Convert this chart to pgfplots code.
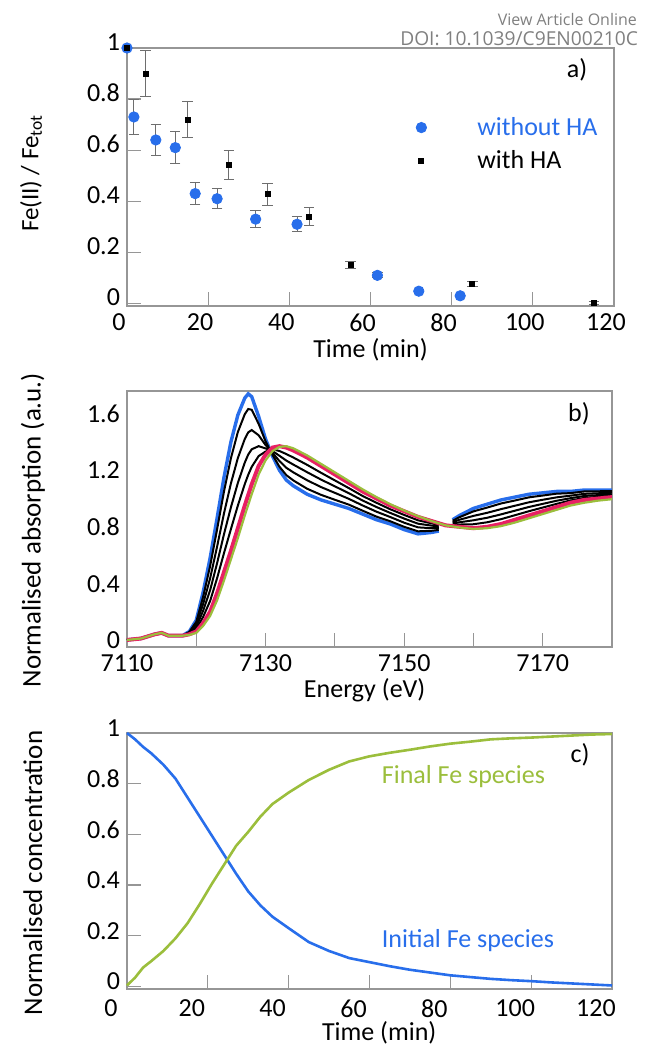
\documentclass[border=0pt]{standalone}
\usepackage{fontspec}
\setmainfont{Carlito}
\newfontfamily\wmfont{Open Sans}
\usepackage{pgfplots}
\pgfplotsset{compat=1.18}

\definecolor{cblue}{RGB}{40,110,235}
\definecolor{cgreen}{RGB}{155,190,60}
\definecolor{cred}{RGB}{232,32,100}
\definecolor{axgray}{RGB}{150,150,150}
\definecolor{errgray}{RGB}{110,110,110}

\pgfplotsset{
  panel/.style={
    scale only axis,
    axis line style={axgray, line width=0.6pt},
    tick style={axgray, line width=0.6pt},
    tick align=inside,
    major tick length=7pt,
    xtick pos=bottom, ytick pos=left,
    tick label style={font=\fontsize{13}{15}\selectfont, text=black},
    xlabel style={font=\fontsize{13}{15}\selectfont},
    ylabel style={font=\fontsize{13.5}{15}\selectfont},
    /pgf/number format/assume math mode=true,
    scaled ticks=false,
  },
  lgmark/.style={legend image code/.code={\path[draw=none,fill=none] (-3pt,0pt) -- (26pt,0pt); \draw[##1] plot coordinates {(0pt,0pt)};}},
}

\begin{document}
\begin{tikzpicture}
\useasboundingbox (0,0) rectangle (322pt,-523pt);

\node[anchor=east, font=\wmfont\fontsize{8}{10}\selectfont, text=gray] at (322pt,-9.5pt) {View Article Online};
\node[anchor=east, font=\wmfont\fontsize{9.6}{11}\selectfont, text=gray] at (322.5pt,-19.5pt) {DOI: 10.1039/C9EN00210C};

% a) Fe(II) fraction
\begin{axis}[panel,
  at={(63.5pt,-153pt)}, anchor=south west,
  width=243.5pt, height=129pt,
  xmin=0, xmax=120, ymin=-0.01, ymax=1,
  xtick={0,20,40,60,80,100,120},
  ytick={0,0.2,0.4,0.6,0.8,1},
  xticklabel style={xshift=-4pt, yshift=-0.5pt},
  yticklabel style={yshift=3pt},
  clip=false,
  xlabel={Time (min)},
  ylabel={Fe(II) / Fe\textsubscript{tot}},
  xlabel style={at={(axis description cs:0.5,-0.168)}, anchor=center},
  ylabel style={at={(axis description cs:-0.197,0.515)}, anchor=center, rotate=0, font=\fontsize{12.5}{15}\selectfont},
  legend style={draw=none, fill=none, at={(0.579,0.765)}, anchor=north west,
    font=\fontsize{13}{15}\selectfont, row sep=2pt},
  legend cell align=left,
]
\addplot[only marks, mark=*, mark size=2.6pt, color=cblue, lgmark,
  error bars/.cd, y dir=both, y explicit,
  error bar style={errgray, line width=0.5pt},
  error mark options={rotate=90, mark size=2.6pt, errgray, line width=0.5pt}]
  coordinates {
  (0,1) +- (0,0)
  (1.7,0.73) +- (0,0.07)
  (7.1,0.64) +- (0,0.062)
  (11.9,0.61) +- (0,0.062)
  (16.8,0.43) +- (0,0.043)
  (22.2,0.41) +- (0,0.04)
  (31.7,0.33) +- (0,0.034)
  (41.9,0.31) +- (0,0.03)
  (61.7,0.11) +- (0,0.01)
  (71.9,0.048) +- (0,0.005)
  (82.1,0.03) +- (0,0.004)
};
\addlegendentry{\textcolor{cblue}{without HA}}
\addplot[only marks, mark=square*, mark size=1.25pt, color=black, lgmark,
  error bars/.cd, y dir=both, y explicit,
  error bar style={errgray, line width=0.5pt},
  error mark options={rotate=90, mark size=2.6pt, errgray, line width=0.5pt}]
  coordinates {
  (0,1) +- (0,0)
  (4.6,0.90) +- (0,0.09)
  (14.9,0.72) +- (0,0.07)
  (25.1,0.542) +- (0,0.055)
  (34.6,0.427) +- (0,0.044)
  (44.9,0.34) +- (0,0.035)
  (55.1,0.15) +- (0,0.014)
  (85.1,0.076) +- (0,0.01)
  (115.0,0.002) +- (0,0.005)
};
\addlegendentry{with HA}
\node[font=\fontsize{13}{15}\selectfont] at (axis description cs:0.924,0.915) {a)};
\end{axis}

% b) XANES spectra
\begin{axis}[panel,
  at={(63.5pt,-323.5pt)}, anchor=south west,
  width=242.5pt, height=128pt,
  xmin=7110, xmax=7180, ymin=-0.03, ymax=1.78,
  xtick={7110,7120,7130,7140,7150,7160,7170,7180},
  xticklabels={7110,,7130,,7150,,7170,},
  xticklabel style={yshift=-0.5pt},
  yticklabel style={yshift=1.2pt},
  ytick={0,0.4,0.8,1.2,1.6},
  ytick style={draw=none},
  clip=true,
  xlabel={Energy (eV)},
  ylabel={Normalised absorption (a.u.)},
  xlabel style={at={(axis description cs:0.49,-0.168)}, anchor=center},
  ylabel style={at={(axis description cs:-0.194,0.457)}, anchor=center, rotate=0},
]
% initial spectrum (blue)
\addplot[cblue, line width=1.7pt] coordinates {
  (7110,0.02)(7112,0.03)(7114,0.06)(7115,0.07)(7116,0.05)(7118,0.05)(7119,0.08)(7120,0.16)
  (7121,0.36)(7122,0.60)(7123,0.88)(7124,1.17)(7125,1.42)(7126,1.61)(7127,1.73)(7127.5,1.76)
  (7128,1.74)(7129,1.60)(7130,1.44)(7131,1.32)(7132,1.22)(7133,1.15)(7134,1.11)(7136,1.05)
  (7138,1.01)(7140,0.98)(7142,0.95)(7144,0.91)(7146,0.87)(7148,0.84)(7150,0.80)(7152,0.77)
  (7154,0.78)(7155,0.79)};
\addplot[cblue, line width=1.7pt] coordinates {
  (7157,0.87)(7158,0.90)(7160,0.95)(7162,0.98)(7164,1.01)(7166,1.03)(7168,1.05)(7170,1.06)
  (7172,1.07)(7174,1.07)(7176,1.08)(7178,1.08)(7180,1.08)};
% intermediate spectra (black)
\addplot[black, line width=1pt] coordinates {
  (7110,0.02)(7112,0.03)(7114,0.06)(7115,0.07)(7116,0.05)(7118,0.05)(7119,0.077)(7120,0.148)
  (7121,0.327)(7122,0.543)(7123,0.801)(7124,1.070)(7125,1.305)(7126,1.490)(7127,1.616)(7127.5,1.653)
  (7128,1.647)(7129,1.548)(7130,1.424)(7131,1.329)(7132,1.245)(7133,1.185)(7134,1.148)(7136,1.089)
  (7138,1.046)(7140,1.011)(7142,0.977)(7144,0.934)(7146,0.892)(7148,0.859)(7150,0.820)(7152,0.788)
  (7154,0.792)(7155,0.798)};
\addplot[black, line width=1pt] coordinates {
  (7110,0.02)(7112,0.03)(7114,0.06)(7115,0.07)(7116,0.05)(7118,0.05)(7119,0.072)(7120,0.130)
  (7121,0.276)(7122,0.456)(7123,0.679)(7124,0.915)(7125,1.127)(7126,1.306)(7127,1.441)(7127.5,1.488)
  (7128,1.504)(7129,1.467)(7130,1.398)(7131,1.343)(7132,1.285)(7133,1.237)(7134,1.205)(7136,1.149)
  (7138,1.101)(7140,1.060)(7142,1.018)(7144,0.971)(7146,0.927)(7148,0.889)(7150,0.849)(7152,0.816)
  (7154,0.810)(7155,0.811)};
\addplot[black, line width=1pt] coordinates {
  (7110,0.02)(7112,0.03)(7114,0.06)(7115,0.07)(7116,0.05)(7118,0.05)(7119,0.068)(7120,0.112)
  (7121,0.228)(7122,0.372)(7123,0.562)(7124,0.768)(7125,0.958)(7126,1.130)(7127,1.274)(7127.5,1.331)
  (7128,1.368)(7129,1.390)(7130,1.374)(7131,1.356)(7132,1.322)(7133,1.288)(7134,1.260)(7136,1.206)
  (7138,1.154)(7140,1.106)(7142,1.058)(7144,1.006)(7146,0.960)(7148,0.918)(7150,0.878)(7152,0.842)
  (7154,0.828)(7155,0.823)};
\addplot[black, line width=1pt] coordinates {
  (7110,0.02)(7112,0.03)(7114,0.06)(7115,0.07)(7116,0.05)(7118,0.05)(7119,0.064)(7120,0.096)
  (7121,0.184)(7122,0.296)(7123,0.456)(7124,0.634)(7125,0.804)(7126,0.970)(7127,1.122)(7127.5,1.188)
  (7128,1.244)(7129,1.320)(7130,1.352)(7131,1.368)(7132,1.356)(7133,1.334)(7134,1.310)(7136,1.258)
  (7138,1.202)(7140,1.148)(7142,1.094)(7144,1.038)(7146,0.990)(7148,0.944)(7150,0.904)(7152,0.866)
  (7154,0.844)(7155,0.834)};
\addplot[black, line width=1pt] coordinates {
  (7157,0.863)(7158,0.888)(7160,0.929)(7162,0.956)(7164,0.985)(7166,1.006)(7168,1.028)(7170,1.041)
  (7172,1.054)(7174,1.058)(7176,1.070)(7178,1.071)(7180,1.073)};
\addplot[black, line width=1pt] coordinates {
  (7157,0.853)(7158,0.870)(7160,0.897)(7162,0.919)(7164,0.945)(7166,0.969)(7168,0.993)(7170,1.011)
  (7172,1.028)(7174,1.040)(7176,1.053)(7178,1.057)(7180,1.061)};
\addplot[black, line width=1pt] coordinates {
  (7157,0.843)(7158,0.852)(7160,0.866)(7162,0.884)(7164,0.908)(7166,0.934)(7168,0.960)(7170,0.982)
  (7172,1.004)(7174,1.022)(7176,1.038)(7178,1.044)(7180,1.050)};
\addplot[black, line width=1pt] coordinates {
  (7157,0.834)(7158,0.836)(7160,0.838)(7162,0.852)(7164,0.874)(7166,0.902)(7168,0.930)(7170,0.956)
  (7172,0.982)(7174,1.006)(7176,1.024)(7178,1.032)(7180,1.040)};
% final spectra (red, green)
\addplot[cred, line width=2pt] coordinates {
  (7110,0.02)(7112,0.03)(7114,0.06)(7115,0.07)(7116,0.05)(7118,0.05)(7119,0.06)(7120,0.08)
  (7121,0.14)(7122,0.22)(7123,0.35)(7124,0.50)(7125,0.65)(7126,0.81)(7127,0.97)(7128,1.12)
  (7129,1.25)(7130,1.33)(7131,1.38)(7132,1.39)(7133,1.38)(7134,1.36)(7136,1.31)(7138,1.25)
  (7140,1.19)(7142,1.13)(7144,1.07)(7146,1.02)(7148,0.97)(7150,0.93)(7152,0.89)(7154,0.86)
  (7156,0.83)(7158,0.82)(7160,0.81)(7162,0.82)(7164,0.84)(7166,0.87)(7168,0.90)(7170,0.93)
  (7172,0.96)(7174,0.99)(7176,1.01)(7178,1.02)(7180,1.03)};
\addplot[cgreen, line width=1.1pt] coordinates {
  (7110,0.02)(7112,0.03)(7114,0.06)(7115,0.07)(7116,0.05)(7118,0.05)(7119,0.055)(7120,0.07)
  (7121,0.12)(7122,0.19)(7123,0.30)(7124,0.44)(7125,0.59)(7126,0.74)(7127,0.90)(7128,1.05)
  (7129,1.19)(7130,1.29)(7131,1.355)(7132,1.385)(7133,1.39)(7134,1.375)(7136,1.325)(7138,1.265)
  (7140,1.205)(7142,1.145)(7144,1.085)(7146,1.03)(7148,0.98)(7150,0.935)(7152,0.895)(7154,0.86)
  (7156,0.83)(7158,0.815)(7160,0.805)(7162,0.81)(7164,0.825)(7166,0.85)(7168,0.88)(7170,0.91)
  (7172,0.94)(7174,0.97)(7176,0.99)(7178,1.005)(7180,1.015)};
\node[font=\fontsize{13}{15}\selectfont] at (axis description cs:0.932,0.91) {b)};
\end{axis}

% c) concentrations
\begin{axis}[panel,
  at={(63.5pt,-494.5pt)}, anchor=south west,
  width=242.5pt, height=128pt,
  xmin=0, xmax=120, ymin=-0.01, ymax=1,
  xtick={0,20,40,60,80,100,120},
  ytick={0,0.2,0.4,0.6,0.8,1},
  xticklabel style={xshift=-8pt, yshift=-2pt},
  yticklabel style={yshift=2.5pt},
  clip=false,
  xlabel={Time (min)},
  ylabel={Normalised concentration},
  xlabel style={at={(axis description cs:0.52,-0.172)}, anchor=center},
  ylabel style={at={(axis description cs:-0.194,0.453)}, anchor=center, rotate=0},
]
\addplot[cblue, line width=1.3pt] coordinates {
  (0,1.0)(2,0.975)(4,0.945)(6,0.92)(9,0.875)(12,0.82)(15,0.745)(18,0.67)(21,0.595)(24,0.52)
  (27,0.445)(30,0.375)(33,0.32)(36,0.275)(40,0.23)(45,0.175)(50,0.14)(55,0.112)(60,0.096)
  (65,0.08)(70,0.066)(75,0.055)(80,0.044)(85,0.037)(90,0.03)(95,0.025)(100,0.021)(105,0.016)
  (110,0.012)(115,0.008)(120,0.004)};
\addplot[cgreen, line width=1.3pt] coordinates {
  (0,0.004)(2,0.035)(4,0.075)(6,0.10)(9,0.14)(12,0.19)(15,0.25)(18,0.325)(21,0.405)(24,0.48)
  (27,0.555)(30,0.61)(33,0.67)(36,0.72)(40,0.765)(45,0.815)(50,0.855)(55,0.888)(60,0.908)
  (65,0.922)(70,0.934)(75,0.947)(80,0.958)(85,0.966)(90,0.975)(95,0.979)(100,0.982)(105,0.986)
  (110,0.99)(115,0.994)(120,0.996)};
\node[font=\fontsize{13}{15}\selectfont, text=cgreen, anchor=west] at (axis description cs:0.511,0.828) {Final Fe species};
\node[font=\fontsize{13}{15}\selectfont, text=cblue, anchor=west] at (axis description cs:0.511,0.191) {Initial Fe species};
\node[font=\fontsize{13}{15}\selectfont] at (axis description cs:0.934,0.914) {c)};
\end{axis}
\end{tikzpicture}
\end{document}
